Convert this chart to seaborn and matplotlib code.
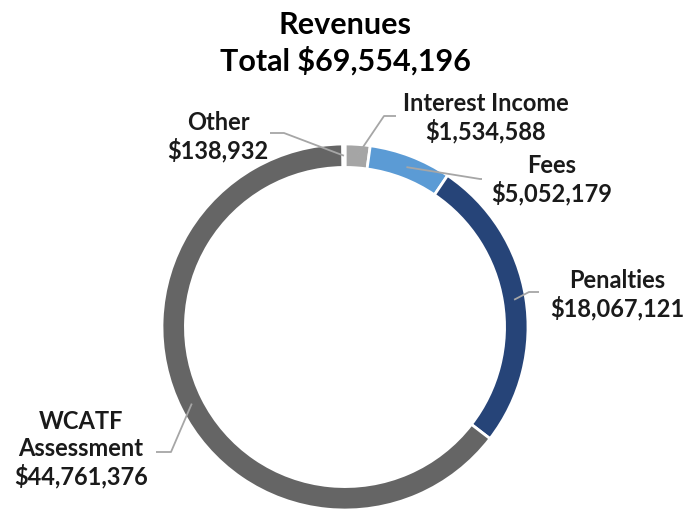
import numpy as np
import seaborn as sns
import matplotlib.pyplot as plt

# -------------------------------
# DATA
# -------------------------------
categories = ["Interest Income", "Fees", "Penalties", "WCATF\nAssessment", "Other"]
values = [1534588, 5052179, 18067121, 44761376, 138932]
colors = ["#A5A5A5", "#5B9BD5", "#264478", "#656565", "#8C8C8C"]
title = "Revenues\nTotal $69,554,196"

sns.set_theme(style="white")
plt.rcParams["font.family"] = ["Lato", "DejaVu Sans"]

W, H = 687, 514
CX, CY, R = 345, 327, 183  # ring center / radius in pixels
RING = 0.128


def px(x, y):
    # pixel position (from top-left) -> data coords
    return (x - CX) / R, (CY - y) / R


fig = plt.figure(figsize=(W / 100, H / 100), dpi=100)
ax = fig.add_axes([0, 0, 1, 1])

wedges, _ = ax.pie(values, colors=colors, startangle=90, counterclock=False,
                   radius=1.0,
                   wedgeprops=dict(width=RING, edgecolor="white", linewidth=2))
ax.set_xlim(-CX / R, (W - CX) / R)
ax.set_ylim(-(H - CY) / R, CY / R)
ax.axis("off")

# -------------------------------
# LABELS + LEADER LINES
# -------------------------------
# text center (px), leader end (px), length of flat piece (px)
label_pos = {
    "Interest Income": ((486, 118), (396, 116), 12),
    "Fees": ((552, 180), (482, 179), 2),
    "Penalties": ((617, 295), (539, 292), 10),
    "WCATF\nAssessment": ((81, 449), (156, 452), 15),
    "Other": ((218, 137), (270, 133), 14),
}

for w, cat, val in zip(wedges, categories, values):
    mid = np.deg2rad((w.theta1 + w.theta2) / 2)
    r_mid = 1.0 - RING / 2
    anchor = (r_mid * np.cos(mid), r_mid * np.sin(mid))
    (tx, ty), (ex, ey), flat = label_pos[cat]
    end = px(ex, ey)
    dx = flat / R if end[0] > anchor[0] else -flat / R
    knee = (end[0] - dx, end[1])
    ax.plot([anchor[0], knee[0], end[0]], [anchor[1], knee[1], end[1]],
            color="#A6A6A6", lw=1.3, solid_capstyle="butt")
    lx, ly = px(tx, ty)
    ax.text(lx, ly, f"{cat}\n${val:,.0f}", ha="center", va="center",
            fontsize=17, fontweight="bold", color="#1A1A1A", linespacing=1.2)

tx, ty = px(345, 43)
ax.text(tx, ty, title, ha="center", va="center", fontsize=22,
        fontweight="bold", color="black", linespacing=1.3)

fig.savefig("out.png", dpi=100)
